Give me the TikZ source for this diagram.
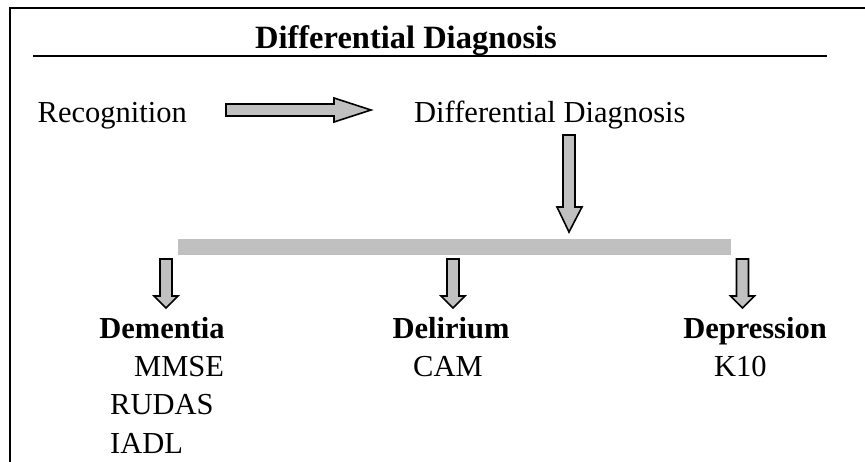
\documentclass[tikz,border=0pt]{standalone}
\usepackage{fontspec}
\setmainfont{Liberation Serif}
\definecolor{arrowgray}{HTML}{C0C0C0}
\tikzset{
  txt/.style={inner sep=0pt, anchor=base west, font=\fontsize{30.5}{36}\selectfont},
  btxt/.style={inner sep=0pt, anchor=base, font=\fontsize{30.5}{36}\selectfont\bfseries},
  blockarrow/.style={draw=black, line width=1.6pt, fill=arrowgray, line join=miter},
  frameline/.style={draw=black, line width=2.2pt},
}
\begin{document}
\begin{tikzpicture}[x=1pt,y=-1pt]
\useasboundingbox (0,0) rectangle (865,461);
% frame
\draw[frameline] (10,462) -- (10,8) -- (866,8);
% title
\node[inner sep=0pt, anchor=base, font=\fontsize{32.5}{38}\selectfont\bfseries] (title) at (406,48) {Differential Diagnosis};
\draw[line width=1.7pt] (33,56) -- (827,56);
% first row
\node[txt, anchor=base east] (recog) at (187,122) {Recognition};
\node[txt] (diff) at (414,122) {Differential Diagnosis};
% horizontal block arrow
\draw[blockarrow] (226,104) -- (334,104) -- (334,98) -- (371,110) -- (334,122) -- (334,116) -- (226,116) -- cycle;
% big down arrow
\draw[blockarrow] (563,135) -- (575,135) -- (575,207) -- (582,207) -- (569,232) -- (557,207) -- (563,207) -- cycle;
% gray bar
\fill[arrowgray] (178,239) rectangle (731,255);
% small down arrows
\foreach \cx in {166,453,742.5}{
  \draw[blockarrow] (\cx-6,259) -- (\cx+6,259) -- (\cx+6,296) -- (\cx+12,296) -- (\cx,308) -- (\cx-12,296) -- (\cx-6,296) -- cycle;
}
% columns
\node[btxt] (dem) at (162,338) {Dementia};
\node[txt] (mmse) at (134,376) {MMSE};
\node[txt] (rudas) at (110,414) {RUDAS};
\node[txt] (iadl) at (110,453) {IADL};
\node[btxt] (del) at (451,338) {Delirium};
\node[txt] (cam) at (413,376) {CAM};
\node[btxt] (dep) at (755,338) {Depression};
\node[txt] (k10) at (714,376) {K10};
\end{tikzpicture}
\end{document}
